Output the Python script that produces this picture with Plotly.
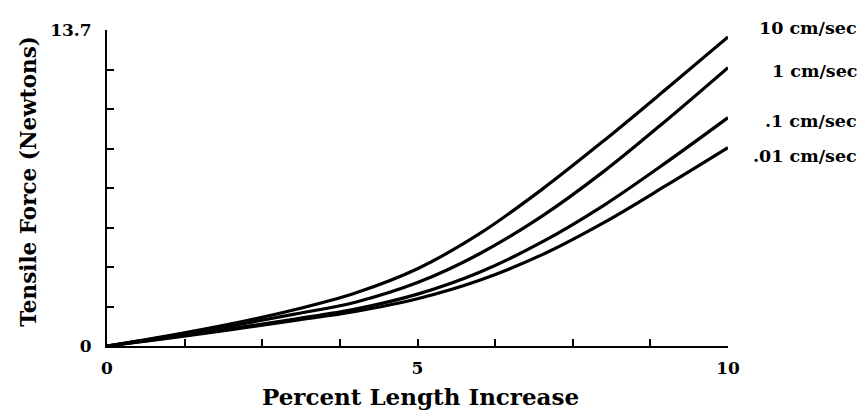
import plotly.graph_objects as go

# Percent length increase (x)
strain = [0, 1, 2, 3, 4, 5, 6, 7, 8, 9, 10]

# Tensile force (Newtons) for each extension rate
force_10 = [0, 0.45, 0.96, 1.56, 2.3, 3.35, 4.87, 6.78, 8.9, 11.13, 13.4]
force_1 = [0, 0.42, 0.87, 1.37, 1.9, 2.75, 4.0, 5.62, 7.57, 9.77, 12.07]
force_01 = [0, 0.36, 0.75, 1.16, 1.6, 2.25, 3.2, 4.5, 6.1, 7.95, 9.9]
force_001 = [0, 0.34, 0.71, 1.1, 1.5, 2.05, 2.85, 3.95, 5.35, 6.95, 8.6]

series_names = ["10 cm/sec", "1 cm/sec", ".1 cm/sec", ".01 cm/sec"]
series_values = [force_10, force_1, force_01, force_001]
label_y = [13.78, 11.92, 9.74, 8.25]  # label heights, in Newtons

y_max = 13.7
y_tickvals = [y_max * i / 8 for i in range(9)]
y_ticktext = ["<b>0</b>"] + [""] * 7 + ["<b>13.7</b>"]
x_tickvals = [0, 5, 10]
x_ticktext = ["<b>0</b>", "<b>5</b>", "<b>10</b>"]

FONT = "DejaVu Serif"

fig = go.Figure()
for name, vals in zip(series_names, series_values):
    fig.add_trace(go.Scatter(
        x=strain, y=vals, mode="lines", name=name,
        line=dict(color="black", width=3.2, shape="spline", smoothing=1.0),
        showlegend=False,
    ))

for name, ly in zip(series_names, label_y):
    fig.add_annotation(
        x=1.2110, xref="paper", y=ly / y_max, yref="paper", text="<b>%s</b>" % name,
        showarrow=False, xanchor="right", yanchor="middle",
        font=dict(family=FONT, size=17.5, color="black"),
    )

fig.add_annotation(
    x=0.505, xref="paper", y=0, yref="paper", yshift=-50,
    text="<b>Percent Length Increase</b>", showarrow=False,
    xanchor="center", yanchor="middle",
    font=dict(family=FONT, size=23, color="black"),
)
fig.add_annotation(
    x=0, xref="paper", xshift=-78, y=0.52, yref="paper",
    text="<b>Tensile Force (Newtons)</b>", showarrow=False, textangle=-90,
    xanchor="center", yanchor="middle",
    font=dict(family=FONT, size=21.5, color="black"),
)

fig.update_layout(
    width=857, height=410,
    margin=dict(l=99, r=137, t=16, b=72),
    plot_bgcolor="white", paper_bgcolor="white",
    xaxis=dict(
        range=[0, 10], showgrid=False, zeroline=False,
        showline=True, linecolor="black", linewidth=2,
        tickmode="array", tickvals=x_tickvals, ticktext=x_ticktext,
        ticks="inside", ticklen=7, tickwidth=2, tickcolor="black",
        minor=dict(dtick=1.25, tick0=0, ticks="inside", ticklen=7, tickwidth=2, tickcolor="black"),
        tickfont=dict(family=FONT, size=17, color="black"),
        ticklabelstandoff=6,
    ),
    yaxis=dict(
        range=[0, y_max], showgrid=False, zeroline=False,
        showline=True, linecolor="black", linewidth=2,
        tickmode="array", tickvals=y_tickvals, ticktext=y_ticktext,
        ticks="inside", ticklen=7, tickwidth=2, tickcolor="black",
        tickfont=dict(family=FONT, size=17, color="black"),
        ticklabelstandoff=10,
    ),
)

fig.write_html("out.html")
